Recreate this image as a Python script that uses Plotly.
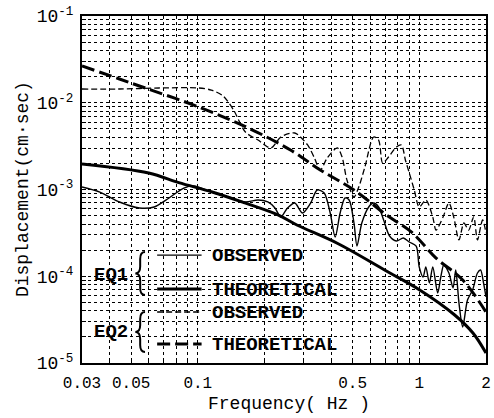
import plotly.graph_objects as go

# ---------------- data ----------------
eq1_obs_f = [0.03, 0.0361, 0.0443, 0.0545, 0.0635, 0.0741, 0.0865, 0.0959, 0.115, 0.137,
             0.164, 0.187, 0.207, 0.223, 0.237, 0.254, 0.274, 0.297, 0.323, 0.346,
             0.372, 0.396, 0.417, 0.439, 0.462, 0.482, 0.507, 0.523, 0.55, 0.591,
             0.622, 0.655, 0.69, 0.734, 0.788, 0.847, 0.901, 0.968, 0.999, 1.04,
             1.07, 1.11, 1.15, 1.21, 1.25, 1.29, 1.36, 1.42, 1.46, 1.51,
             1.57, 1.65, 1.74, 1.83, 1.89, 1.95, 2.0]
eq1_obs_v = [1.07e-3, 9.35e-4, 7.18e-4, 6.12e-4, 6.29e-4, 7.98e-4, 1.04e-3, 1.10e-3, 9.35e-4, 8.2e-4,
             7.18e-4, 7.57e-4, 7.18e-4, 6.12e-4, 4.82e-4, 6.12e-4, 6.98e-4, 5.36e-4, 6.98e-4, 9.86e-4,
             9.12e-4, 5.36e-4, 2.83e-4, 5.36e-4, 7.98e-4, 7.57e-4, 4.11e-4, 2.23e-4, 4.11e-4, 6.29e-4,
             6.98e-4, 6.29e-4, 4.45e-4, 2.91e-4, 2.55e-4, 2.76e-4, 2.48e-4, 2.23e-4, 1.28e-4, 9.8e-5,
             1.28e-4, 8.36e-5, 1.28e-4, 6.41e-5, 9.8e-5, 1.35e-4, 1.09e-4, 7.33e-5, 1.18e-4, 4.92e-5,
             2.6e-5, 5.32e-5, 6.93e-5, 1.09e-4, 1.18e-4, 8.36e-5, 5.77e-5]

eq1_theo_f = [0.03, 0.06, 0.082, 0.117, 0.163, 0.23, 0.28, 0.426, 0.71, 1.0, 1.44, 1.75, 2.0]
eq1_theo_v = [1.97e-3, 1.55e-3, 1.2e-3, 9.3e-4, 7.0e-4, 5.1e-4, 3.9e-4, 2.4e-4, 1.15e-4, 7.0e-5,
              3.6e-5, 2.2e-5, 1.3e-5]

eq2_obs_f = [0.03, 0.0443, 0.0669, 0.101, 0.115, 0.130, 0.145, 0.164, 0.187, 0.214,
             0.237, 0.274, 0.313, 0.336, 0.357, 0.384, 0.426, 0.448, 0.471, 0.507,
             0.533, 0.568, 0.622, 0.655, 0.683, 0.726, 0.788, 0.83, 0.865, 0.901,
             0.949, 0.999, 1.07, 1.15, 1.19, 1.28, 1.36, 1.43, 1.51, 1.59,
             1.67, 1.76, 1.83, 1.93, 2.0]
eq2_obs_v = [1.44e-2, 1.44e-2, 1.48e-2, 1.48e-2, 1.40e-2, 1.20e-2, 8.25e-3, 4.6e-3, 3.72e-3, 3.01e-3,
             4.03e-3, 4.48e-3, 3.26e-3, 2.31e-3, 1.68e-3, 2.31e-3, 3.01e-3, 2.37e-3, 1.29e-3, 8.2e-4,
             1.07e-3, 1.82e-3, 4.03e-3, 3.72e-3, 2.02e-3, 2.37e-3, 3.09e-3, 3.26e-3, 2.19e-3, 1.55e-3,
             9.86e-4, 6.29e-4, 7.57e-4, 4.82e-4, 3.41e-4, 4.82e-4, 6.98e-4, 4.82e-4, 2.62e-4, 4.11e-4,
             3.41e-4, 4.82e-4, 2.62e-4, 4.45e-4, 3.15e-4]

eq2_theo_f = [0.03, 0.0443, 0.0545, 0.101, 0.169, 0.262, 0.357, 0.507, 0.711, 0.92, 1.19, 1.57, 2.0]
eq2_theo_v = [2.65e-2, 1.88e-2, 1.56e-2, 8.93e-3, 5.12e-3, 2.85e-3, 1.68e-3, 9.86e-4, 5.08e-4,
              3.24e-4, 1.62e-4, 9.05e-5, 3.87e-5]

x_tickvals = [0.03, 0.04, 0.05, 0.06, 0.07, 0.08, 0.09, 0.1, 0.2, 0.3, 0.4, 0.5,
              0.6, 0.7, 0.8, 0.9, 1, 2]
x_ticklabels = ["0.03", "", "0.05", "", "", "", "", "0.1", "", "", "", "0.5",
                "", "", "", "", "1", "2"]
y_decades = [-5, -4, -3, -2, -1]

legend_groups = ["EQ1", "EQ2"]
legend_labels = ["OBSERVED", "THEORETICAL", "OBSERVED", "THEORETICAL"]

# ---------------- styles ----------------
FONT = "Liberation Mono"
thin_solid = dict(color="black", width=1.4)
thick_solid = dict(color="black", width=3)
thin_dash = dict(color="black", width=1.3, dash="6px,3px")
thick_dash = dict(color="black", width=3, dash="13px,5px")

y_tickvals, y_ticktext = [], []
for d in y_decades:
    ks = range(1, 10) if d < -1 else [1]
    for k in ks:
        y_tickvals.append(k * 10.0 ** d)
        y_ticktext.append(f"10<sup>{d}</sup>" if k == 1 else "")

fig = go.Figure()
fig.add_trace(go.Scatter(x=eq2_obs_f, y=eq2_obs_v, mode="lines", line=thin_dash,
                         line_shape="spline", line_smoothing=0.8))
fig.add_trace(go.Scatter(x=eq2_theo_f, y=eq2_theo_v, mode="lines", line=thick_dash,
                         line_shape="spline", line_smoothing=1.0))
fig.add_trace(go.Scatter(x=eq1_obs_f, y=eq1_obs_v, mode="lines", line=thin_solid,
                         line_shape="spline", line_smoothing=0.8))
fig.add_trace(go.Scatter(x=eq1_theo_f, y=eq1_theo_v, mode="lines", line=thick_solid,
                         line_shape="spline", line_smoothing=1.0))

axis_common = dict(showline=True, linecolor="black", linewidth=2, mirror=True,
                   ticks="inside", ticklen=4, tickcolor="black", tickwidth=1,
                   showgrid=True, gridcolor="black", gridwidth=1, griddash="dot",
                   zeroline=False)

fig.update_xaxes(type="log", range=[-1.5229, 0.30103], tickmode="array",
                 tickvals=x_tickvals, ticktext=x_ticklabels, ticklabelstandoff=4,
                 tickfont=dict(family=FONT, size=16, color="black"), **axis_common)
fig.update_yaxes(type="log", range=[-5, -1], tickmode="array",
                 tickvals=y_tickvals, ticktext=y_ticktext, ticklabelstandoff=3,
                 tickfont=dict(family=FONT, size=18, color="black"), **axis_common)

# legend: white box (hides grid), braces, sample lines and texts (paper coords)
shapes = [dict(type="rect", xref="paper", yref="paper", x0=0, x1=0.628, y0=0, y1=0.346,
               fillcolor="white", line=dict(width=0), layer="between")]


def brace(xc, ytop, ybot, w=0.024, h=0.02):
    xr, xl = xc + w / 2, xc - w / 2
    mid = (ytop + ybot) / 2
    return (f"M {xr},{ytop} Q {xc},{ytop} {xc},{ytop - h} L {xc},{mid + h} "
            f"Q {xc},{mid} {xl},{mid} Q {xc},{mid} {xc},{mid - h} "
            f"L {xc},{ybot + h} Q {xc},{ybot} {xr},{ybot}")


for yt, yb in [(0.32, 0.196), (0.147, 0.032)]:
    shapes.append(dict(type="path", xref="paper", yref="paper", path=brace(0.144, yt, yb),
                       line=dict(color="black", width=2), layer="above"))

sample_styles = [thin_solid, thick_solid, thin_dash, thick_dash]
sample_y = [0.311, 0.213, 0.147, 0.055]
text_y = [0.308, 0.210, 0.144, 0.052]
for st, yy in zip(sample_styles, sample_y):
    shapes.append(dict(type="line", xref="paper", yref="paper", x0=0.186, x1=0.296,
                       y0=yy, y1=yy, line=st, layer="above"))

annotations = []
for lab, yy in zip(legend_labels, text_y):
    annotations.append(dict(text=f"<b>{lab}</b>", xref="paper", yref="paper", x=0.318, y=yy,
                            xanchor="left", yanchor="middle", showarrow=False,
                            font=dict(family=FONT, size=19, color="black")))
for lab, yy in zip(legend_groups, [0.254, 0.089]):
    annotations.append(dict(text=f"<b>{lab}</b>", xref="paper", yref="paper", x=0.073, y=yy,
                            xanchor="center", yanchor="middle", showarrow=False,
                            font=dict(family=FONT, size=19, color="black")))
annotations.append(dict(text="Frequency( Hz )", xref="paper", yref="paper", x=0.513, y=-0.118,
                        xanchor="center", yanchor="middle", showarrow=False,
                        font=dict(family=FONT, size=18, color="black")))
annotations.append(dict(text="Displacement(cm·sec)", xref="paper", yref="paper", x=-0.147, y=0.5,
                        xanchor="center", yanchor="middle", textangle=-90, showarrow=False,
                        font=dict(family=FONT, size=18, color="black")))

fig.update_layout(width=494, height=418, margin=dict(l=82, r=3, t=16, b=55),
                  paper_bgcolor="white", plot_bgcolor="white", showlegend=False,
                  shapes=shapes, annotations=annotations)

fig.write_html("out.html")
